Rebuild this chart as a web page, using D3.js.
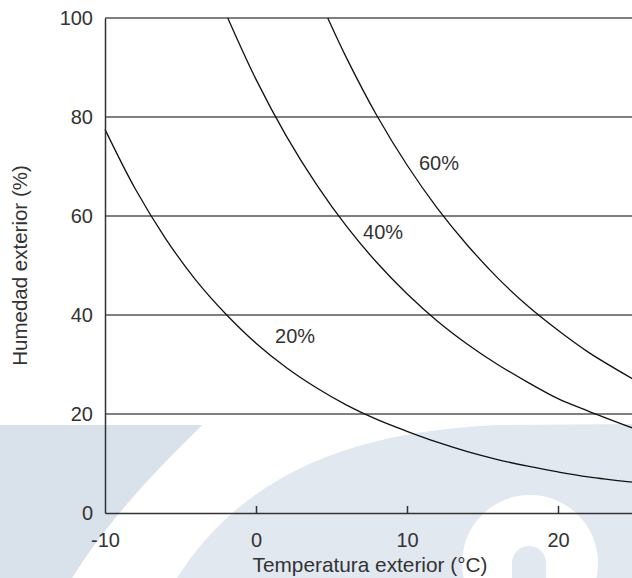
<!DOCTYPE html>
<html>
<head>
<meta charset="utf-8">
<script src="https://cdn.jsdelivr.net/npm/d3@7"></script>
<style>
  html, body { margin: 0; padding: 0; background: #fff; }
  svg { display: block; }
  text { font-family: "Liberation Sans", Arial, Helvetica, sans-serif; fill: #333; }
</style>
</head>
<body>
<svg id="chart" width="632" height="578"></svg>
<script>
// ---- data ----
const xTicks = [-10, 0, 10, 20];
const yTicks = [0, 20, 40, 60, 80, 100];
const gridValues = [20, 40, 60, 80, 100];
const seriesNames = ["20%", "40%", "60%"];
// [temperatura exterior (°C), humedad exterior (%)]
const curve20 = [[-10, 77.5], [-8, 65.5], [-6, 55.5], [-4, 47.1], [-2, 40.2], [0, 34.3], [2, 29.4], [4, 25.3], [6, 21.8], [8, 18.9], [10, 16.5], [12, 14.3], [14, 12.4], [16, 10.8], [18, 9.45], [20, 8.3], [22, 7.3], [25, 6.2]];
const curve40 = [[-1.87, 100], [0, 87.6], [2, 76.2], [4, 66.4], [6, 57.9], [8, 50.6], [10, 44.3], [12, 38.8], [14, 34.1], [16, 30.0], [18, 26.4], [20, 23.1], [22, 20.6], [25, 17.1]];
const curve60 = [[4.75, 100], [6, 91.9], [8, 80.3], [10, 70.3], [12, 61.6], [14, 54.1], [16, 47.5], [18, 41.8], [20, 36.9], [22, 32.5], [25, 27.0]];
// label anchor positions in data units
const labelX = [1.26, 7.09, 10.79];
const labelY = [34.4, 55.35, 69.3];
const xTitle = "Temperatura exterior (°C)";
const yTitle = "Humedad exterior (%)";

const svg = d3.select("#chart");
const W = 632, H = 578;
const x = d3.scaleLinear().domain([-10, 25]).range([105, 633.5]);
const y = d3.scaleLinear().domain([0, 100]).range([513, 18]);

// ---- background watermark ----
const wm = svg.append("g");
wm.append("path")
  .attr("d", "M0,425 L202,425 C176,452 118,505 72,578 L0,578 Z")
  .attr("fill", "#d9e1ea");
wm.append("path")
  .attr("d", "M177,578 C230,495 320,432 500,425 L632,424 L632,578 Z")
  .attr("fill", "#e1e8f0");
wm.append("circle").attr("cx", 530).attr("cy", 563).attr("r", 68).attr("fill", "#ffffff");
wm.append("rect").attr("x", 512).attr("y", 546).attr("width", 34).attr("height", 80).attr("rx", 17).attr("fill", "#e1e8f0");

// ---- grid ----
svg.append("g").selectAll("line").data(gridValues).join("line")
  .attr("x1", x(-10)).attr("x2", W)
  .attr("y1", d => y(d)).attr("y2", d => y(d))
  .attr("stroke", "#555").attr("stroke-width", 1.4);

// ---- curves ----
const line = d3.line().x(d => x(d[0])).y(d => y(d[1])).curve(d3.curveCatmullRom.alpha(0.5));
svg.append("g").selectAll("path").data([curve20, curve40, curve60]).join("path")
  .attr("d", line)
  .attr("fill", "none")
  .attr("stroke", "#111")
  .attr("stroke-width", 1.3);

// ---- axes ----
const gx = svg.append("g").attr("transform", `translate(0,${y(0)})`)
  .call(d3.axisBottom(x).tickValues(xTicks).tickFormat(d => String(d))
    .tickSizeInner(-7).tickSizeOuter(0).tickPadding(20));
const gy = svg.append("g").attr("transform", `translate(${x(-10)},0)`)
  .call(d3.axisLeft(y).tickValues(yTicks).tickFormat(d => String(d))
    .tickSize(0).tickPadding(12));
[gx, gy].forEach(g => {
  g.select(".domain").attr("stroke", "#333").attr("stroke-width", 1.5);
  g.selectAll(".tick line").attr("stroke", "#333").attr("stroke-width", 1.5);
  g.selectAll(".tick text").attr("font-size", 20).attr("fill", "#333")
    .attr("font-family", '"Liberation Sans", Arial, sans-serif');
});
gx.selectAll(".tick").filter(d => d === -10).select("line").remove();

// ---- series labels ----
svg.append("g").selectAll("text").data(seriesNames).join("text")
  .attr("x", (d, i) => x(labelX[i]))
  .attr("y", (d, i) => y(labelY[i]))
  .attr("font-size", 20)
  .text(d => d);

// ---- axis titles ----
svg.append("text")
  .attr("x", 370).attr("y", 572)
  .attr("text-anchor", "middle")
  .attr("font-size", 20.8)
  .text(xTitle);
svg.append("text")
  .attr("transform", `translate(27,${(y(0) + y(100)) / 2}) rotate(-90)`)
  .attr("text-anchor", "middle")
  .attr("font-size", 20.5)
  .text(yTitle);
</script>
</body>
</html>
